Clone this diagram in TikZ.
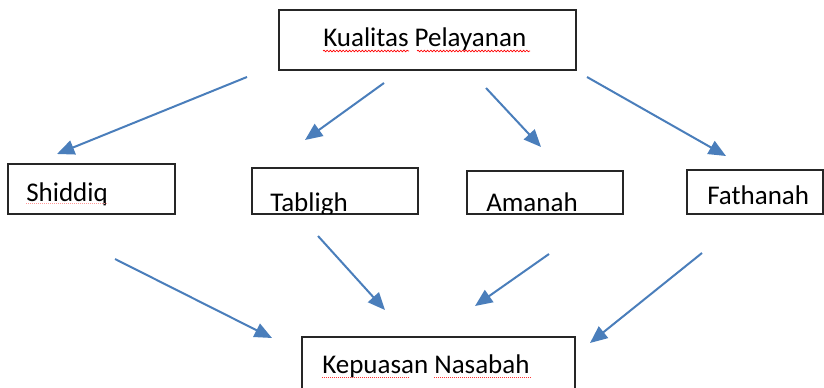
\documentclass[tikz,border=0pt]{standalone}
\usepackage{fontspec}
\setmainfont{Carlito}
\usepackage{tikz}
\usetikzlibrary{arrows.meta}
\usetikzlibrary{decorations.pathmorphing}
\definecolor{arrowblue}{HTML}{4A7EBB}

\begin{document}
\begin{tikzpicture}[x=0.75pt,y=-0.75pt,
    box/.style={draw=black!85,line width=1pt,inner sep=0pt},
    lbl/.style={anchor=base west,inner sep=0pt,font=\fontsize{20.25}{24}\selectfont},
    arr/.style={arrowblue,line width=1.5pt,-{Triangle[length=13pt,width=11pt]}},
    wavy/.style={red,line width=0.5pt,decorate,decoration={snake,amplitude=0.6pt,segment length=2.4pt}},
    dots/.style={red!80,line width=0.6pt,dash pattern=on 0.6pt off 0.9pt}]
  \clip (0,0) rectangle (824,388);

  % boxes
  \node[box,minimum width=222.75pt,minimum height=45pt] (kualitas) at (427.5,40) {};
  \node[box,minimum width=125.25pt,minimum height=37.5pt] (shiddiq) at (91.5,189) {};
  \node[box,minimum width=124.5pt,minimum height=34.5pt] (tabligh) at (335,191) {};
  \node[box,minimum width=117pt,minimum height=32.25pt] (amanah) at (545,192.5) {};
  \node[box,minimum width=102pt,minimum height=33pt] (fathanah) at (755,192) {};
  \node[box,minimum width=204.75pt,minimum height=41.25pt] (kepuasan) at (438.5,364.5) {};

  % labels
  \node[lbl] (kualitas-t) at (323,47) {Kualitas Pelayanan};
  \draw[wavy] ([yshift=-3pt]kualitas-t.base west) -- ++(86,0);
  \draw[wavy] ([yshift=-3pt]kualitas-t.base west) ++(94,0) -- ++(113,0);
  \begin{scope}
    \clip (shiddiq.north west) rectangle ([yshift=6.75pt]shiddiq.south east);
    \node[lbl] (shiddiq-t) at (26,202) {Shiddiq};
    \draw[dots,red!40] ([yshift=-1pt]shiddiq-t.base west) -- ++(82,0);
  \end{scope}
  \begin{scope}
    \clip (tabligh.north west) rectangle ([yshift=0.75pt]tabligh.south east);
    \node[lbl] (tabligh-t) at (270,212) {Tabligh};
  \end{scope}
  \begin{scope}
    \clip (amanah.north west) rectangle ([yshift=0.75pt]amanah.south east);
    \node[lbl] (amanah-t) at (486,212) {Amanah};
  \end{scope}
  \node[lbl] (fathanah-t) at (707,205) {Fathanah};
  \node[lbl] (kepuasan-t) at (322,373) {Kepuasan Nasabah};
  \draw[dots] ([yshift=-3pt]kepuasan-t.base west) -- ++(87,0);
  \draw[dots] ([yshift=-3pt]kepuasan-t.base west) ++(112,0) -- ++(97,0);

  % arrow ends
  \coordinate (s1) at (247,77);  \coordinate (e1) at (57,154);
  \coordinate (s2) at (384,83);  \coordinate (e2) at (305,140);
  \coordinate (s3) at (486,88);  \coordinate (e3) at (541,147);
  \coordinate (s4) at (587,77);  \coordinate (e4) at (726,156);
  \coordinate (s5) at (115,259); \coordinate (e5) at (272,338);
  \coordinate (s6) at (318,236); \coordinate (e6) at (385,310);
  \coordinate (s7) at (549,254); \coordinate (e7) at (475,306);
  \coordinate (s8) at (702,253); \coordinate (e8) at (590,343);
  \path[arr]
    (s1) edge (e1)
    (s2) edge (e2)
    (s3) edge (e3)
    (s4) edge (e4)
    (s5) edge (e5)
    (s6) edge (e6)
    (s7) edge (e7)
    (s8) edge (e8);
\end{tikzpicture}
\end{document}
